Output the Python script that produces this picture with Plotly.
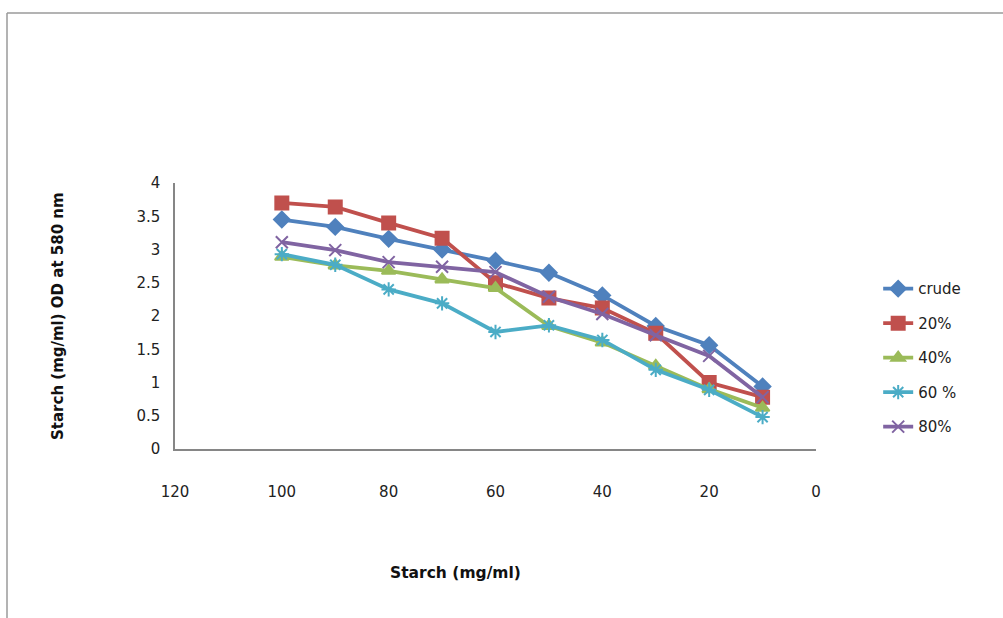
import plotly.graph_objects as go

x_vals = [100, 90, 80, 70, 60, 50, 40, 30, 20, 10]
crude = [3.45, 3.34, 3.16, 3.0, 2.83, 2.65, 2.31, 1.85, 1.56, 0.94]
p20 = [3.70, 3.64, 3.40, 3.17, 2.50, 2.27, 2.12, 1.74, 1.00, 0.78]
p40 = [2.89, 2.76, 2.68, 2.55, 2.42, 1.85, 1.60, 1.25, 0.90, 0.62]
p60 = [2.93, 2.77, 2.40, 2.19, 1.76, 1.86, 1.64, 1.19, 0.89, 0.48]
p80 = [3.11, 2.99, 2.81, 2.74, 2.66, 2.29, 2.03, 1.71, 1.40, 0.78]

names = ["crude", "20%", "40%", "60 %", "80%"]
series = [crude, p20, p40, p60, p80]
colors = ["#4F81BD", "#C0504D", "#9BBB59", "#4BACC6", "#8064A2"]
symbols = ["diamond", "square", "triangle-up", "asterisk-open", "x-thin-open"]
msizes = [12, 13, 12, 12, 12]

FONT = "DejaVu Sans, Liberation Sans, Arial, sans-serif"

fig = go.Figure()
for i, (n, s) in enumerate(zip(names, series)):
    fig.add_trace(go.Scatter(
        x=x_vals, y=s, name=n, mode="lines+markers",
        line=dict(color=colors[i], width=3.8),
        marker=dict(symbol=symbols[i], size=msizes[i], color=colors[i],
                    line=dict(color=colors[i], width=2)),
        legendgroup=str(i),
    ))

fig.update_layout(
    width=1003, height=618,
    margin=dict(l=175, r=187, t=183, b=169),
    paper_bgcolor="white", plot_bgcolor="white",
    font=dict(family=FONT, color="#222222", size=15),
    legend=dict(x=1.097, y=0.664, xanchor="left", yanchor="top",
                font=dict(size=15, color="#222"), tracegroupgap=12,
                traceorder="grouped", bgcolor="rgba(0,0,0,0)"),
    xaxis=dict(range=[120, 0], dtick=20, tick0=0, showgrid=False, zeroline=False,
               showline=True, linecolor="#868686", linewidth=1.5,
               ticks="", ticklabelstandoff=28, tickfont=dict(size=15)),
    yaxis=dict(range=[0, 4], dtick=0.5, tick0=0, showgrid=False, zeroline=False,
               showline=True, linecolor="#868686", linewidth=1.5,
               ticks="", ticklabelstandoff=10, tickfont=dict(size=15)),
    annotations=[
        dict(text="<b>Starch (mg/ml)</b>", xref="paper", yref="paper",
             x=(455 - 175) / 641, y=(449 - 573) / 266, showarrow=False,
             xanchor="center", yanchor="middle",
             font=dict(family=FONT, size=15.5, color="#111")),
        dict(text="<b>Starch (mg/ml) OD at 580 nm</b>", xref="paper", yref="paper",
             x=(58 - 175) / 641, y=(449 - 316) / 266, showarrow=False,
             xanchor="center", yanchor="middle", textangle=-90,
             font=dict(family=FONT, size=15, color="#111")),
    ],
    shapes=[
        dict(type="line", xref="paper", yref="paper",
             x0=(7 - 175) / 641, x1=(1003 - 175) / 641,
             y0=(449 - 13) / 266, y1=(449 - 13) / 266,
             line=dict(color="#9a9a9a", width=1.5)),
        dict(type="line", xref="paper", yref="paper",
             x0=(7 - 175) / 641, x1=(7 - 175) / 641,
             y0=(449 - 13) / 266, y1=(449 - 618) / 266,
             line=dict(color="#9a9a9a", width=1.5)),
    ],
)

fig.write_html("out.html")
